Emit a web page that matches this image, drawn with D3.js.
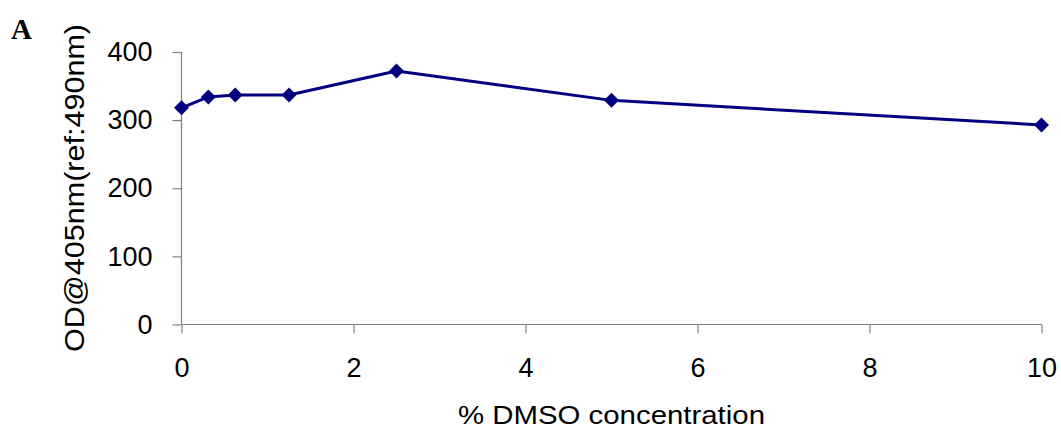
<!DOCTYPE html>
<html>
<head>
<meta charset="utf-8">
<script src="https://cdn.jsdelivr.net/npm/d3@7"></script>
<style>
  html, body { margin: 0; padding: 0; background: #fff; }
  svg { display: block; }
  text { font-family: "Liberation Sans", Arial, sans-serif; fill: #000; }
</style>
</head>
<body>
<svg id="chart" width="1061" height="428"></svg>
<script>
// DMSO concentration (%) and the measured optical density
const dmsoPercent = [0, 0.3125, 0.625, 1.25, 2.5, 5, 10];
const odValues    = [318, 334, 337, 337, 372, 329, 293];
const xTicks = [0, 2, 4, 6, 8, 10];
const yTicks = [0, 100, 200, 300, 400];

const svg = d3.select("#chart");
const margin = { left: 181.5, right: 19.5, top: 52, bottom: 103.5 };
const W = 1061, H = 428;

const x = d3.scaleLinear().domain([0, 10]).range([margin.left, W - margin.right]);
const y = d3.scaleLinear().domain([0, 400]).range([H - margin.bottom, margin.top]);

const axisColor = "#808080";

// y axis
const gy = svg.append("g")
  .attr("transform", `translate(${margin.left},0)`)
  .call(d3.axisLeft(y).tickValues(yTicks).tickSize(9).tickPadding(20).tickFormat(d3.format("d")));
// x axis
const gx = svg.append("g")
  .attr("transform", `translate(0,${y(0)})`)
  .call(d3.axisBottom(x).tickValues(xTicks).tickSize(9).tickPadding(24).tickFormat(d3.format("d")));

[gx, gy].forEach(g => {
  g.select(".domain").attr("stroke", axisColor).attr("stroke-width", 1.2);
  g.selectAll(".tick line").attr("stroke", axisColor).attr("stroke-width", 1.2);
  g.selectAll(".tick text").style("font-size", "27px").attr("fill", "#000")
    .style("font-family", '"Liberation Sans", Arial, sans-serif');
});
gx.select(".domain").attr("d", `M${x(0)},0H${x(10)}`);
gy.select(".domain").attr("d", `M0,${y(0)}V${y(400)}`);

// line
const pts = dmsoPercent.map((d, i) => [d, odValues[i]]);
svg.append("path")
  .datum(pts)
  .attr("fill", "none")
  .attr("stroke", "#000080")
  .attr("stroke-width", 3)
  .attr("stroke-linejoin", "round")
  .attr("d", d3.line().x(d => x(d[0])).y(d => y(d[1])));

// diamond markers
svg.selectAll(".marker")
  .data(pts)
  .join("path")
  .attr("class", "marker")
  .attr("fill", "#000080")
  .attr("transform", d => `translate(${x(d[0])},${y(d[1])})`)
  .attr("d", "M0,-7.5L7.5,0L0,7.5L-7.5,0Z");

// axis titles
svg.append("text")
  .attr("x", 611.5).attr("y", 424)
  .attr("text-anchor", "middle")
  .attr("textLength", 307).attr("lengthAdjust", "spacingAndGlyphs")
  .style("font-size", "26px")
  .text("% DMSO concentration");

svg.append("text")
  .attr("transform", "translate(84,188) rotate(-90)")
  .attr("text-anchor", "middle")
  .attr("textLength", 328).attr("lengthAdjust", "spacingAndGlyphs")
  .style("font-size", "28px")
  .text("OD@405nm(ref:490nm)");

// panel label
svg.append("text")
  .attr("x", 11).attr("y", 39)
  .style("font-family", '"Liberation Serif", "Times New Roman", serif')
  .style("font-weight", "bold")
  .style("font-size", "29px")
  .text("A");
</script>
</body>
</html>
